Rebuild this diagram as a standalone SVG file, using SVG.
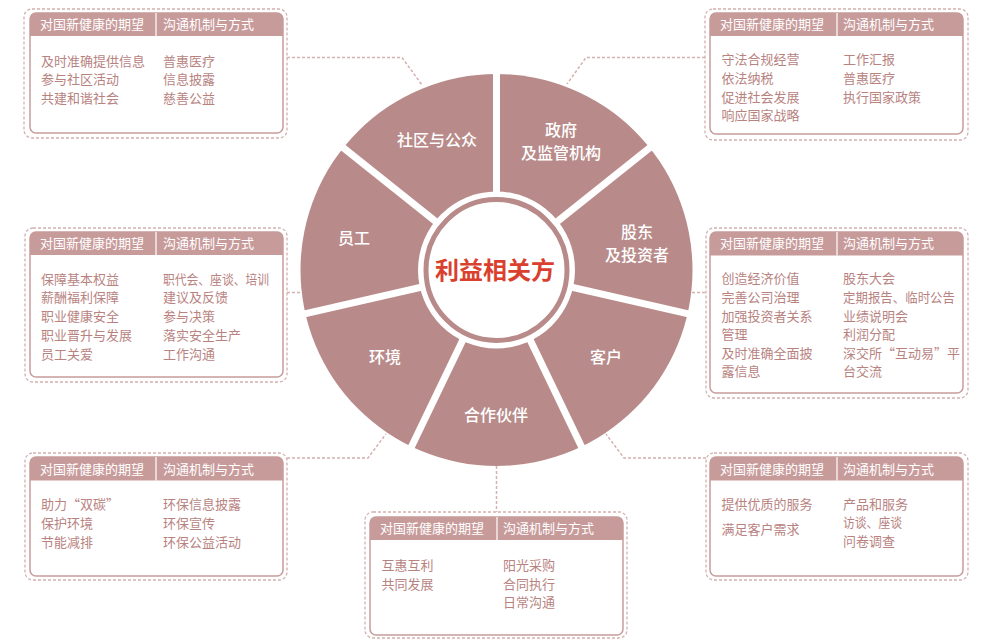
<svg xmlns="http://www.w3.org/2000/svg" width="984" height="639" viewBox="0 0 984 639">
<style>
text{font-family:"Noto Sans CJK SC","Noto Sans",sans-serif;}
.outer{fill:none;stroke:#d4b0b0;stroke-width:1.3;stroke-dasharray:3 2;}
.inner{fill:#fff;stroke:#c89c9c;stroke-width:1.5;}
.hdr{fill:#c89b9b;}
.hdiv{stroke:#fff;stroke-width:1.2;}
.ht{fill:#fff;font-size:13px;}
.bt{fill:#b8837f;font-size:13px;}
.lbl{fill:#fff;font-size:16px;font-weight:500;text-anchor:middle;}
.conn{fill:none;stroke:#d4b0b0;stroke-width:1.5;stroke-dasharray:3 2;}
.div{stroke:#fff;stroke-width:7;}
</style>

<g id="connectors">
<path class="conn" d="M287,57.5 H402 L422,85"/>
<path class="conn" d="M705,57.5 H586 L567,84"/>
<path class="conn" d="M287,292.5 H301"/>
<path class="conn" d="M692,292.5 H706"/>
<path class="conn" d="M287,458 H368 L386,434"/>
<path class="conn" d="M706,458 H624 L606,434"/>
<path class="conn" d="M496.5,466 V512"/>
</g>

<g id="wheel">
<circle cx="496.5" cy="270" r="196" fill="#b88b8a"/>
<line class="div" x1="496.5" y1="270" x2="496.5" y2="72"/>
<line class="div" x1="496.5" y1="270" x2="651.3" y2="146.6"/>
<line class="div" x1="496.5" y1="270" x2="689.5" y2="314.1"/>
<line class="div" x1="496.5" y1="270" x2="582.4" y2="448.4"/>
<line class="div" x1="496.5" y1="270" x2="410.6" y2="448.4"/>
<line class="div" x1="496.5" y1="270" x2="303.5" y2="314.1"/>
<line class="div" x1="496.5" y1="270" x2="341.7" y2="146.6"/>
<circle cx="496.5" cy="270" r="78.5" fill="#fff"/>
<circle cx="496.5" cy="270" r="70.5" fill="#fff" stroke="#b88b8a" stroke-width="5"/>
</g>

<g id="center"><text x="495" y="279" font-size="24" font-weight="700" fill="#d9412e" text-anchor="middle">利益相关方</text></g>
<g id="s-community"><text class="lbl" x="437" y="146">社区与公众</text></g>
<g id="s-gov"><text class="lbl" x="561" y="136">政府</text><text class="lbl" x="561" y="158.5">及监管机构</text></g>
<g id="s-share"><text class="lbl" x="637" y="237.5">股东</text><text class="lbl" x="637" y="261">及投资者</text></g>
<g id="s-staff"><text class="lbl" x="354" y="244">员工</text></g>
<g id="s-env"><text class="lbl" x="385" y="362.5">环境</text></g>
<g id="s-partner"><text class="lbl" x="496" y="421">合作伙伴</text></g>
<g id="s-client"><text class="lbl" x="606" y="362.5">客户</text></g>

<g id="box-community">
<rect class="outer" x="24" y="9" width="263" height="129" rx="8"/>
<rect class="inner" x="30" y="13" width="253" height="120" rx="6"/>
<path class="hdr" d="M30,36 V19 a6,6 0 0 1 6,-6 H277 a6,6 0 0 1 6,6 V36 Z"/>
<line class="hdiv" x1="156" y1="13" x2="156" y2="36"/>
<text class="ht" x="40" y="29">对国新健康的期望</text><text class="ht" x="163" y="29">沟通机制与方式</text>
<text class="bt" x="41" y="65.5">及时准确提供信息</text><text class="bt" x="41" y="84">参与社区活动</text><text class="bt" x="41" y="102.5">共建和谐社会</text>
<text class="bt" x="163" y="65.5">普惠医疗</text><text class="bt" x="163" y="84">信息披露</text><text class="bt" x="163" y="102.5">慈善公益</text>
</g>

<g id="box-gov">
<rect class="outer" x="705" y="9" width="263" height="131" rx="8"/>
<rect class="inner" x="710" y="13" width="253" height="121" rx="6"/>
<path class="hdr" d="M710,36 V19 a6,6 0 0 1 6,-6 H957 a6,6 0 0 1 6,6 V36 Z"/>
<line class="hdiv" x1="837" y1="13" x2="837" y2="36"/>
<text class="ht" x="720" y="29">对国新健康的期望</text><text class="ht" x="843" y="29">沟通机制与方式</text>
<text class="bt" x="721.5" y="64">守法合规经营</text><text class="bt" x="721.5" y="82.5">依法纳税</text><text class="bt" x="721.5" y="101.5">促进社会发展</text><text class="bt" x="721.5" y="120">响应国家战略</text>
<text class="bt" x="843" y="64">工作汇报</text><text class="bt" x="843" y="82.5">普惠医疗</text><text class="bt" x="843" y="101.5">执行国家政策</text>
</g>

<g id="box-staff">
<rect class="outer" x="25" y="228" width="262" height="154" rx="8"/>
<rect class="inner" x="30" y="232" width="253" height="145" rx="6"/>
<path class="hdr" d="M30,255 V238 a6,6 0 0 1 6,-6 H277 a6,6 0 0 1 6,6 V255 Z"/>
<line class="hdiv" x1="156" y1="232" x2="156" y2="255"/>
<text class="ht" x="40" y="248">对国新健康的期望</text><text class="ht" x="163" y="248">沟通机制与方式</text>
<text class="bt" x="41" y="283.5">保障基本权益</text><text class="bt" x="41" y="302">薪酬福利保障</text><text class="bt" x="41" y="321">职业健康安全</text><text class="bt" x="41" y="339.5">职业晋升与发展</text><text class="bt" x="41" y="358.5">员工关爱</text>
<text class="bt" x="163" y="283.5" textLength="106" lengthAdjust="spacingAndGlyphs">职代会、座谈、培训</text><text class="bt" x="163" y="302">建议及反馈</text><text class="bt" x="163" y="321">参与决策</text><text class="bt" x="163" y="339.5">落实安全生产</text><text class="bt" x="163" y="358.5">工作沟通</text>
</g>

<g id="box-share">
<rect class="outer" x="706" y="228" width="262" height="170" rx="8"/>
<rect class="inner" x="710" y="232" width="253" height="161" rx="6"/>
<path class="hdr" d="M710,255.5 V238 a6,6 0 0 1 6,-6 H957 a6,6 0 0 1 6,6 V255.5 Z"/>
<line class="hdiv" x1="837" y1="232" x2="837" y2="255.5"/>
<text class="ht" x="720" y="248">对国新健康的期望</text><text class="ht" x="843" y="248">沟通机制与方式</text>
<text class="bt" x="721.5" y="283">创造经济价值</text><text class="bt" x="721.5" y="302">完善公司治理</text><text class="bt" x="721.5" y="320.5">加强投资者关系</text><text class="bt" x="721.5" y="339">管理</text><text class="bt" x="721.5" y="358">及时准确全面披</text><text class="bt" x="721.5" y="376">露信息</text>
<text class="bt" x="843" y="283">股东大会</text><text class="bt" x="843" y="302" textLength="112" lengthAdjust="spacingAndGlyphs">定期报告、临时公告</text><text class="bt" x="843" y="320.5">业绩说明会</text><text class="bt" x="843" y="339">利润分配</text><text class="bt" x="843" y="358">深交所“互动易”平</text><text class="bt" x="843" y="376">台交流</text>
</g>

<g id="box-env">
<rect class="outer" x="25" y="453" width="262" height="127" rx="8"/>
<rect class="inner" x="30" y="457" width="253" height="119" rx="6"/>
<path class="hdr" d="M30,480.5 V463 a6,6 0 0 1 6,-6 H277 a6,6 0 0 1 6,6 V480.5 Z"/>
<line class="hdiv" x1="156" y1="457" x2="156" y2="480.5"/>
<text class="ht" x="40" y="473.5">对国新健康的期望</text><text class="ht" x="163" y="473.5">沟通机制与方式</text>
<text class="bt" x="41" y="509">助力“双碳”</text><text class="bt" x="41" y="527.5">保护环境</text><text class="bt" x="41" y="546.5">节能减排</text>
<text class="bt" x="163" y="509">环保信息披露</text><text class="bt" x="163" y="527.5">环保宣传</text><text class="bt" x="163" y="546.5">环保公益活动</text>
</g>

<g id="box-partner">
<rect class="outer" x="365" y="512" width="262" height="126" rx="8"/>
<rect class="inner" x="370" y="517" width="253" height="118" rx="6"/>
<path class="hdr" d="M370,540 V523 a6,6 0 0 1 6,-6 H617 a6,6 0 0 1 6,6 V540 Z"/>
<line class="hdiv" x1="497" y1="517" x2="497" y2="540"/>
<text class="ht" x="380" y="533">对国新健康的期望</text><text class="ht" x="503" y="533">沟通机制与方式</text>
<text class="bt" x="381.5" y="569.5">互惠互利</text><text class="bt" x="381.5" y="588.5">共同发展</text>
<text class="bt" x="503" y="569.5">阳光采购</text><text class="bt" x="503" y="588.5">合同执行</text><text class="bt" x="503" y="607">日常沟通</text>
</g>

<g id="box-client">
<rect class="outer" x="706" y="453" width="262" height="127" rx="8"/>
<rect class="inner" x="710" y="457" width="253" height="119" rx="6"/>
<path class="hdr" d="M710,480.5 V463 a6,6 0 0 1 6,-6 H957 a6,6 0 0 1 6,6 V480.5 Z"/>
<line class="hdiv" x1="837" y1="457" x2="837" y2="480.5"/>
<text class="ht" x="720" y="473.5">对国新健康的期望</text><text class="ht" x="843" y="473.5">沟通机制与方式</text>
<text class="bt" x="721.5" y="509">提供优质的服务</text><text class="bt" x="721.5" y="533.5">满足客户需求</text>
<text class="bt" x="843" y="509">产品和服务</text><text class="bt" x="843" y="527" textLength="59" lengthAdjust="spacingAndGlyphs">访谈、座谈</text><text class="bt" x="843" y="546">问卷调查</text>
</g>
</svg>
